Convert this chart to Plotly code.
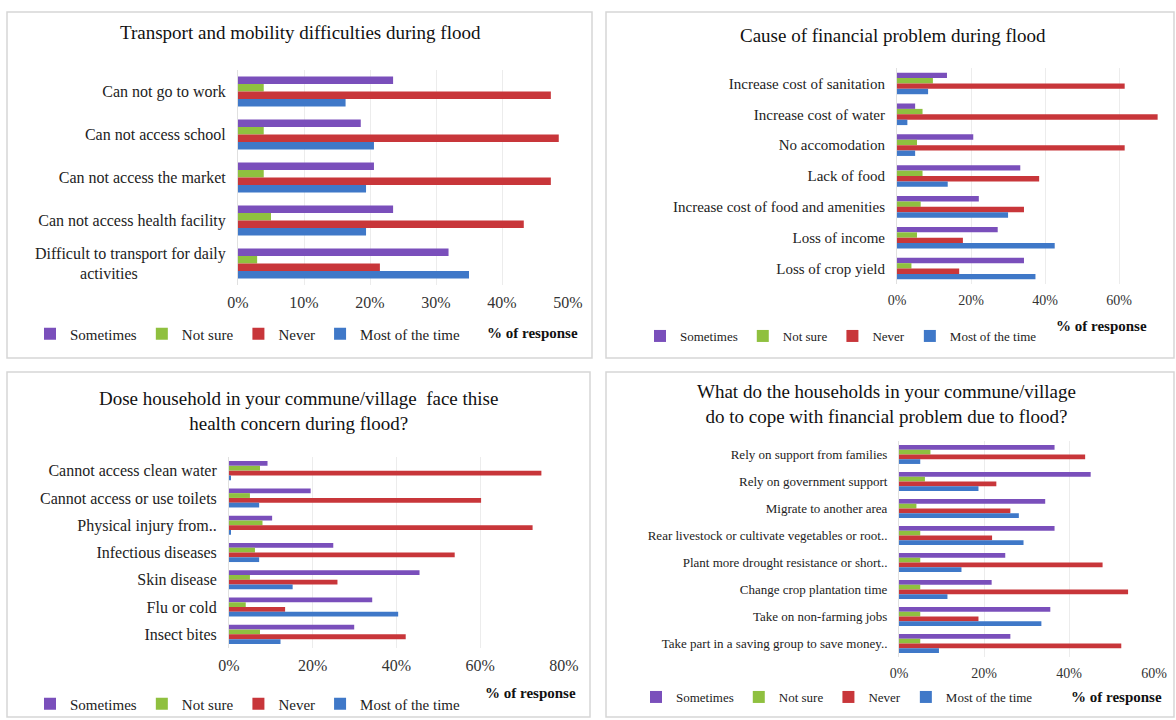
import plotly.graph_objects as go

# ---- data ----
series_names = ["Sometimes", "Not sure", "Never", "Most of the time"]
series_colors = ["#7A4FBB", "#8FC03F", "#C8363A", "#3F78C8"]

transport_cats = ["Can not go to work", "Can not access school", "Can not access the market",
                  "Can not access health facility",
                  "Difficult to transport for daily<br>activities" + "\u00a0" * 22]
transport_sometimes = [0.235, 0.186, 0.206, 0.235, 0.319]
transport_notsure = [0.039, 0.039, 0.039, 0.050, 0.029]
transport_never = [0.474, 0.486, 0.474, 0.433, 0.215]
transport_most = [0.163, 0.206, 0.194, 0.194, 0.350]

finance_cats = ["Increase cost of sanitation", "Increase cost of water", "No accomodation",
                "Lack of food", "Increase cost of food and amenities", "Loss of income",
                "Loss of crop yield"]
finance_sometimes = [0.135, 0.049, 0.206, 0.333, 0.221, 0.272, 0.343]
finance_notsure = [0.097, 0.069, 0.054, 0.069, 0.064, 0.054, 0.039]
finance_never = [0.615, 0.704, 0.615, 0.384, 0.343, 0.178, 0.168]
finance_most = [0.084, 0.028, 0.049, 0.137, 0.300, 0.426, 0.374]

health_cats = ["Cannot access clean water", "Cannot access or use toilets", "Physical injury from..",
               "Infectious diseases", "Skin disease", "Flu or cold", "Insect bites"]
health_sometimes = [0.092, 0.195, 0.103, 0.249, 0.455, 0.342, 0.299]
health_notsure = [0.074, 0.050, 0.080, 0.062, 0.050, 0.040, 0.074]
health_never = [0.746, 0.602, 0.725, 0.539, 0.259, 0.134, 0.422]
health_most = [0.004, 0.072, 0.004, 0.072, 0.152, 0.404, 0.123]

cope_cats = ["Rely on support from families", "Rely on government support", "Migrate to another area",
             "Rear livestock or cultivate vegetables or root..", "Plant more drought resistance or short..",
             "Change crop plantation time", "Take on non-farming jobs",
             "Take part in a saving group to save money.."]
cope_sometimes = [0.366, 0.451, 0.344, 0.366, 0.250, 0.218, 0.356, 0.262]
cope_notsure = [0.074, 0.061, 0.041, 0.050, 0.050, 0.050, 0.050, 0.050]
cope_never = [0.438, 0.229, 0.262, 0.219, 0.479, 0.539, 0.187, 0.523]
cope_most = [0.050, 0.187, 0.282, 0.293, 0.147, 0.114, 0.335, 0.094]

W, H = 1176, 720
FONT = "Liberation Serif"


def px_x(v):
    return v / W


def px_y(v):
    return 1 - v / H


panels = [
    # cats, series, axis suffix, legend name, x-domain px, y-domain px (top, bottom), range, dtick, font sizes
    dict(cats=transport_cats, vals=[transport_sometimes, transport_notsure, transport_never, transport_most],
         ax="", leg="legend", xd=(238, 568), yd=(70, 285), rng=0.5, dt=0.1, lab=16, tick=16),
    dict(cats=finance_cats, vals=[finance_sometimes, finance_notsure, finance_never, finance_most],
         ax="2", leg="legend2", xd=(897, 1158), yd=(68, 284), rng=0.705, dt=0.2, lab=15, tick=14),
    dict(cats=health_cats, vals=[health_sometimes, health_notsure, health_never, health_most],
         ax="3", leg="legend3", xd=(229, 564), yd=(457, 648), rng=0.8, dt=0.2, lab=16, tick=16),
    dict(cats=cope_cats, vals=[cope_sometimes, cope_notsure, cope_never, cope_most],
         ax="4", leg="legend4", xd=(899, 1154), yd=(441, 657), rng=0.6, dt=0.2, lab=13, tick=14),
]

fig = go.Figure()

for p in panels:
    for name, color, vals in zip(series_names, series_colors, p["vals"]):
        fig.add_trace(go.Bar(
            y=p["cats"], x=vals, name=name, orientation="h",
            marker=dict(color=color, line=dict(width=0)),
            xaxis="x" + p["ax"], yaxis="y" + p["ax"], legend=p["leg"],
        ))
    fig.layout["xaxis" + p["ax"]] = dict(
        domain=[px_x(p["xd"][0]), px_x(p["xd"][1])], range=[0, p["rng"]],
        anchor="y" + p["ax"], tickformat=".0%", dtick=p["dt"], tick0=0,
        showgrid=True, gridcolor="#ececec", zeroline=False, showline=False,
        ticks="", ticklabelstandoff=6, automargin=False,
        tickfont=dict(family=FONT, size=p["tick"], color="#333333"),
    )
    fig.layout["yaxis" + p["ax"]] = dict(
        domain=[px_y(p["yd"][1]), px_y(p["yd"][0])], anchor="x" + p["ax"],
        type="category", autorange="reversed", showgrid=False, ticks="",
        showline=True, linecolor="#e0e0e0", ticklabelstandoff=8, automargin=False,
        tickfont=dict(family=FONT, size=p["lab"], color="#222222"),
    )

legend_pos = {"legend": (30, 334, 15), "legend2": (640, 336, 13),
              "legend3": (30, 704, 15), "legend4": (636, 697, 13)}
for name, (lx, ly, fs) in legend_pos.items():
    fig.layout[name] = dict(
        orientation="h", x=px_x(lx), y=px_y(ly), xanchor="left", yanchor="middle",
        font=dict(family=FONT, size=fs, color="#222222"), itemwidth=30,
        bgcolor="rgba(0,0,0,0)", traceorder="normal", tracegroupgap=0,
    )

# panel frames
frames = [(7, 12, 592, 358), (606, 12, 1174, 358), (7, 372, 590, 717), (606, 372, 1174, 717)]
for x0, y0, x1, y1 in frames:
    fig.add_shape(type="rect", xref="paper", yref="paper",
                  x0=px_x(x0), x1=px_x(x1), y0=px_y(y1), y1=px_y(y0),
                  line=dict(color="#d6d6d6", width=1.5), fillcolor="rgba(0,0,0,0)", layer="below")

titles = [
    ("Transport and mobility difficulties during flood", 300, 33),
    ("Cause of financial problem during flood", 893, 35),
    ("Dose household in your commune/village  face thise<br>health concern during flood?", 298, 411),
    ("What do the households in your commune/village<br>do to cope with financial problem due to flood?", 886, 404),
]
for text, tx, ty in titles:
    fig.add_annotation(text=text, x=px_x(tx), y=px_y(ty), xref="paper", yref="paper",
                       showarrow=False, xanchor="center", yanchor="middle",
                       font=dict(family=FONT, size=19, color="#111111"))

resp_pos = [(532, 333), (1101, 326), (530, 693), (1116, 697)]
for rx, ry in resp_pos:
    fig.add_annotation(text="<b>% of response</b>", x=px_x(rx), y=px_y(ry), xref="paper", yref="paper",
                       showarrow=False, xanchor="center", yanchor="middle",
                       font=dict(family=FONT, size=15, color="#111111"))

fig.update_layout(
    width=W, height=H, margin=dict(l=0, r=0, t=0, b=0, autoexpand=False),
    paper_bgcolor="white", plot_bgcolor="white",
    barmode="group", bargap=0.3, bargroupgap=0,
)

# drop the browser's default 8px body margin so the figure sits at the page corner
fig.write_html("out.html", config={"displayModeBar": False},
               post_script="document.body.style.margin='0';")
